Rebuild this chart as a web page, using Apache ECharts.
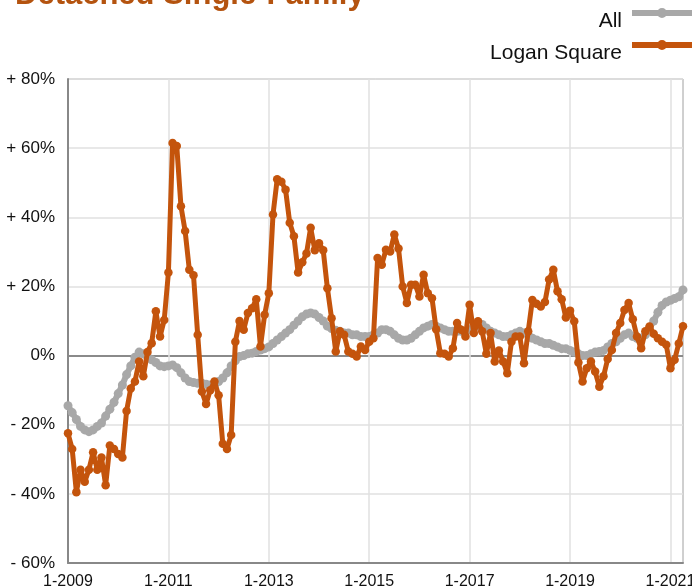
<!DOCTYPE html>
<html>
<head>
<meta charset="utf-8">
<script src="https://cdn.jsdelivr.net/npm/echarts@6/dist/echarts.min.js"></script>
<style>
  html, body { margin: 0; padding: 0; background: #fff; }
  #chart { width: 692px; height: 588px; }
</style>
</head>
<body>
<div id="chart"></div>
<script>
  // monthly change vs prior year, 1-2009 .. 4-2021
  var firstYear = 2009;
  var monthCount = 148;

  var allValues = [
    -14.5, -16.5, -18.5, -20.5, -21.5, -22, -21.5, -20.5, -19.5, -17.5, -15.5, -13.5,
    -11, -8.5, -5.5, -3, -0.5, 1, 0.5, -0.3, -1.2, -2, -3, -3.2,
    -3, -2.7, -3.5, -5, -6.5, -7.5, -7.8, -8, -8, -8.3, -8.5, -8.5,
    -7.5, -6.5, -5, -3, -1.5, -0.3, 0, 0.5, 0.7, 1.2, 1.6, 2,
    2.5, 3.5, 4.5, 5.5, 6.5, 7.5, 8.8, 10, 11.2, 12, 12.3, 12,
    11, 10, 8.5, 7.8, 7.3, 7, 6.5, 6.5, 6, 6, 5.5, 5.5,
    5.5, 6, 6.5, 7.5, 7.5, 7, 6, 5, 4.5, 4.5, 5, 6,
    7, 8, 8.5, 9, 8.5, 8, 7.5, 7, 7, 7, 7, 7,
    7.5, 8, 8.5, 9, 8, 7, 6.5, 6, 5.5, 5.5, 6, 6.5,
    7, 6.5, 6, 5, 4.5, 4, 3.5, 3.5, 3, 2.5, 2, 2,
    1.5, 1, 0.5, 0, 0, 0.5, 1, 1.2, 1.5, 2.5, 3.5, 4,
    5, 6, 6.5, 5.5, 5, 5, 6, 8, 10, 12.5, 14.5, 15.5,
    16, 16.5, 17, 19
  ];

  var loganValues = [
    -22.5, -27, -39.5, -33, -36.5, -33, -28, -33, -29.5, -37.5, -26, -27,
    -28.5, -29.5, -16, -9.5, -7.5, -1.7, -6, 1, 3.6, 12.8, 5.5, 10.3,
    24, 61.5, 60.6, 43.2, 36, 24.8, 23.2, 6, -10.4, -14, -10, -7.5,
    -11.5, -25.5, -27, -23, 4, 10, 7.5, 12.3, 13.7, 16.3, 2.6, 11.8,
    18, 40.8, 51, 50.3, 48, 38.4, 34.5, 24, 27, 29.5, 37, 30.5,
    32.5, 30.5, 19.5, 10.8, 1.2, 7, 6, 1.2, 0.5, -0.3, 2.6, 1.6,
    4, 5, 28.2, 26.3, 30.6, 30.1, 35, 31, 20, 15.2, 20.5, 20.5,
    17.1, 23.4, 18, 16.6, 7.6, 0.7, 0.5, -0.3, 2.1, 9.4, 7.5, 5.5,
    14.7, 6.5, 9.9, 7, 0.5, 6.5, -1.7, 1.5, -1.7, -5.1, 4, 5.5,
    5.5, -2.2, 7, 16.1, 15, 14.2, 15.5, 22, 24.8, 18.6, 16.3, 11,
    13, 9.9, -2, -7.5, -3.7, -1.7, -4.6, -9, -6, -1, 1.6, 6.5,
    9.4, 13.2, 15.2, 10.5, 5.5, 2.1, 7, 8.4, 6.3, 5, 4, 3.1,
    -3.7, -1.2, 3.5, 8.5
  ];

  var months = [];
  for (var i = 0; i < monthCount; i++) {
    months.push((i % 12 + 1) + '-' + (firstYear + Math.floor(i / 12)));
  }

  var font = 'Liberation Sans, Arial, Helvetica, sans-serif';

  function pctLabel(v) {
    if (v > 0) return '+ ' + v + '%';
    if (v < 0) return '- ' + (-v) + '%';
    return '0%';
  }

  // legend key: thick line with a dot, drawn in the upper half of a 68x28 box
  var legendKey = 'path://M0,4 L68,4 L68,10 L0,10 Z M35,7 A5,5 0 1,1 25,7 A5,5 0 1,1 35,7 Z M0,27.9 L0.1,27.9 L0.1,28 L0,28 Z';

  var chart = echarts.init(document.getElementById('chart'));

  var option = {
    backgroundColor: '#fff',
    animation: false,
    textStyle: {fontFamily: font},
    title: {
      text: 'Detached Single-Family',
      left: 10,
      top: -25,
      textStyle: {fontSize: 31, fontWeight: 'bold', color: '#B4530F', fontFamily: font}
    },
    legend: {
      orient: 'vertical',
      align: 'right',
      right: -13,
      top: 3,
      itemWidth: 68,
      itemHeight: 28,
      itemGap: 6,
      icon: legendKey,
      itemStyle: {borderWidth: 0},
      textStyle: {fontSize: 21, color: '#111', padding: [0, 5, 0, 0], fontFamily: font},
      data: ['All', 'Logan Square']
    },
    grid: {
      left: 68,
      right: 9,
      top: 79,
      bottom: 25,
      outerBoundsMode: 'none',
      show: true,
      borderColor: '#a0a0a0',
      borderWidth: 1
    },
    xAxis: {
      type: 'category',
      data: months,
      boundaryGap: false,
      axisLine: {show: true, onZero: false, lineStyle: {color: '#888', width: 2}},
      axisTick: {show: false},
      axisLabel: {interval: 23, fontSize: 16, color: '#111', margin: 11, fontFamily: font},
      splitLine: {show: true, interval: 23, lineStyle: {color: '#e0e0e0', width: 1.5}}
    },
    yAxis: [
      {
        type: 'value',
        min: -60,
        max: 80,
        interval: 20,
        axisLine: {show: true, lineStyle: {color: '#888', width: 2}},
        axisTick: {show: false},
        axisLabel: {formatter: pctLabel, fontSize: 17, color: '#111', margin: 13, fontFamily: font},
        splitLine: {lineStyle: {color: '#e0e0e0', width: 1.5}}
      },
      {
        // only the zero line, darker
        type: 'value',
        position: 'left',
        min: -60,
        max: 80,
        interval: 20,
        axisLine: {show: false},
        axisTick: {show: false},
        axisLabel: {show: false},
        splitLine: {
          lineStyle: {
            color: ['rgba(0,0,0,0)', 'rgba(0,0,0,0)', 'rgba(0,0,0,0)', '#8a8a8a',
                    'rgba(0,0,0,0)', 'rgba(0,0,0,0)', 'rgba(0,0,0,0)', 'rgba(0,0,0,0)'],
            width: 2
          }
        }
      }
    ],
    series: [
      {
        name: 'All',
        type: 'line',
        data: allValues,
        symbol: 'circle',
        symbolSize: 9,
        showAllSymbol: true,
        color: '#A8A8A8',
        lineStyle: {width: 6, color: '#A8A8A8'},
        itemStyle: {color: '#A8A8A8'},
        z: 3
      },
      {
        name: 'Logan Square',
        type: 'line',
        data: loganValues,
        symbol: 'circle',
        symbolSize: 8.5,
        showAllSymbol: true,
        color: '#C4540C',
        lineStyle: {width: 5, color: '#C4540C'},
        itemStyle: {color: '#C4540C'},
        z: 4
      }
    ]
  };

  chart.setOption(option);
</script>
</body>
</html>
